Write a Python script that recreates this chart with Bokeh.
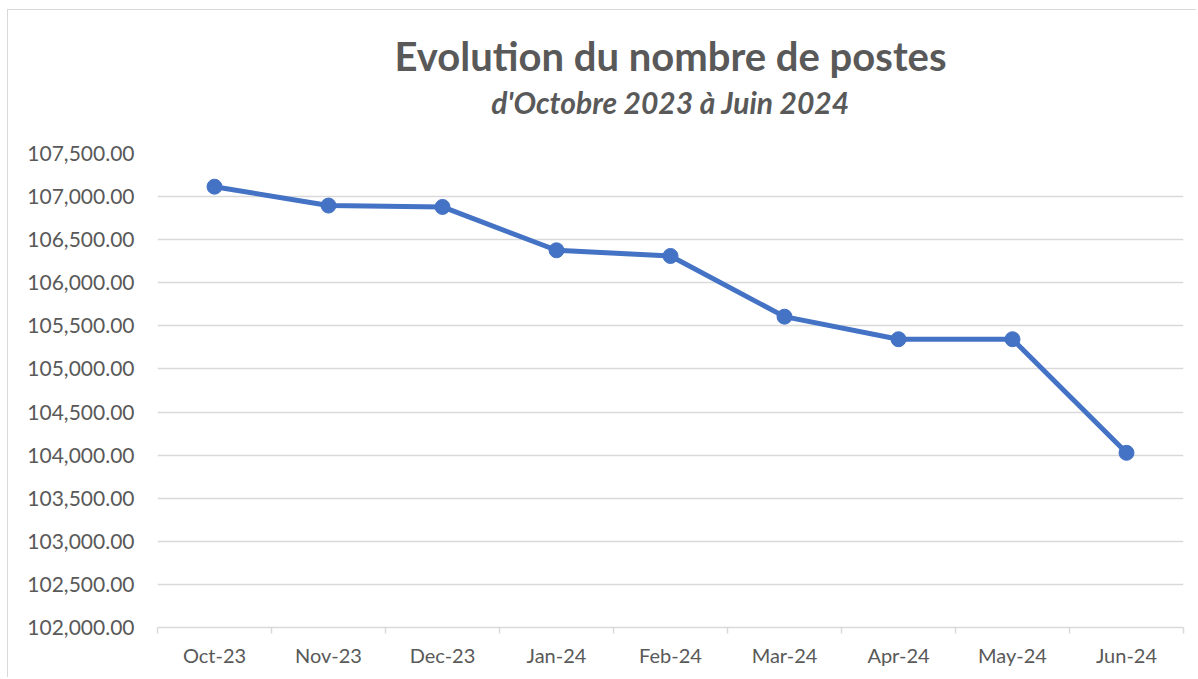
from bokeh.plotting import figure
from bokeh.models import Range1d, FixedTicker, NumeralTickFormatter, Title, ColumnDataSource
from bokeh.embed import file_html
from bokeh.resources import INLINE

months = ["Oct-23", "Nov-23", "Dec-23", "Jan-24", "Feb-24", "Mar-24", "Apr-24", "May-24", "Jun-24"]
postes = [107115, 106896, 106880, 106377, 106311, 105607, 105345, 105345, 104027]
y_ticks = [102000, 102500, 103000, 103500, 104000, 104500, 105000, 105500, 106000, 106500, 107000, 107500]

title_text = "Evolution du nombre de postes"
subtitle_text = "d'Octobre 2023 à Juin 2024"

n = len(months)
xpos = [i + 0.5 for i in range(n)]
src = ColumnDataSource(dict(x=xpos, y=postes, month=months))

FONT = "Lato"
GREY = "#595959"
GRID = "#d9d9d9"
BLUE = "#4472C4"

p = figure(width=1189, height=668, output_backend="svg", toolbar_location=None,
           x_range=Range1d(0, n), y_range=Range1d(y_ticks[0], y_ticks[-1]),
           min_border_left=149, min_border_right=14, min_border_top=143, min_border_bottom=51)
p.outline_line_color = None
p.background_fill_color = "white"
p.border_fill_color = "white"

# spacer between plot area and subtitle
p.add_layout(Title(text="\u00a0", text_font=FONT, text_font_size="1px", standoff=31), "above")
p.add_layout(Title(text=subtitle_text, align="center", text_font=FONT, text_font_size="30px",
                   text_font_style="bold italic", text_color=GREY, standoff=0), "above")
p.add_layout(Title(text=title_text, align="center", text_font=FONT, text_font_size="40px",
                   text_font_style="bold", text_color=GREY, standoff=3), "above")

p.line("x", "y", source=src, line_color=BLUE, line_width=5)
p.scatter("x", "y", source=src, size=15, fill_color=BLUE, line_color=BLUE)

# y axis
p.yaxis.ticker = FixedTicker(ticks=y_ticks)
p.yaxis.formatter = NumeralTickFormatter(format="0,0.00")
p.yaxis.axis_line_color = None
p.yaxis.major_tick_line_color = None
p.yaxis.minor_tick_line_color = None
p.yaxis.major_tick_out = 0
p.yaxis.major_label_standoff = 23
p.yaxis.major_label_text_font = FONT
p.yaxis.major_label_text_font_size = "21px"
p.yaxis.major_label_text_color = GREY

# x axis
p.xaxis.ticker = FixedTicker(ticks=xpos, minor_ticks=list(range(n + 1)))
p.xaxis.major_label_overrides = {x: m for x, m in zip(xpos, months)}
p.xaxis.axis_line_color = GRID
p.xaxis.axis_line_width = 1.5
p.xaxis.major_tick_line_color = None
p.xaxis.major_tick_out = 0
p.xaxis.minor_tick_line_color = GRID
p.xaxis.minor_tick_line_width = 1.5
p.xaxis.minor_tick_out = 6
p.xaxis.minor_tick_in = 0
p.xaxis.major_label_standoff = 9
p.xaxis.major_label_text_font = FONT
p.xaxis.major_label_text_font_size = "20px"
p.xaxis.major_label_text_color = GREY

p.xgrid.grid_line_color = None
p.ygrid.ticker = FixedTicker(ticks=y_ticks)
p.ygrid.grid_line_color = GRID
p.ygrid.grid_line_width = 1.5

p.styles = {"margin-left": "7px", "margin-top": "9px",
            "border-left": "1px solid #d9d9d9", "border-top": "1px solid #d9d9d9"}

open("out.html", "w").write(file_html(p, INLINE))
